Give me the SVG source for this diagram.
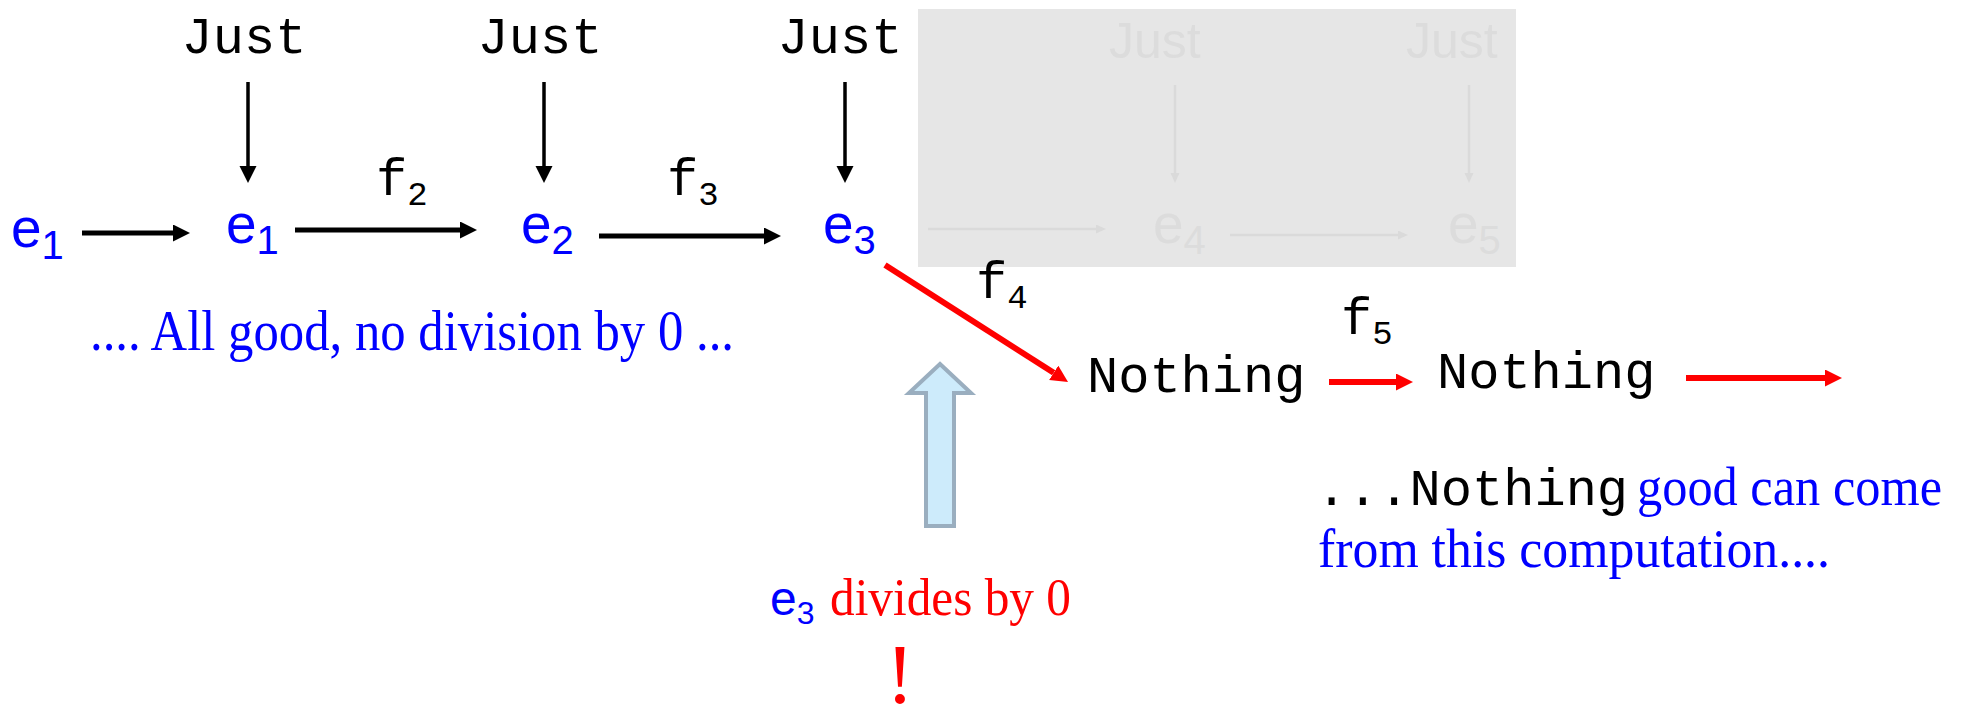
<svg xmlns="http://www.w3.org/2000/svg" width="1965" height="721" viewBox="0 0 1965 721">
<style>
.mono{font-family:"Liberation Mono","Courier New",monospace;fill:#000}
.sans{font-family:"Liberation Sans",Arial,sans-serif}
.serif{font-family:"Liberation Serif","Times New Roman",serif}
.en{fill:#0000ff;font-size:55px}
.sub{font-size:40px}
.blk{stroke:#000;stroke-width:5;fill:none}
.vblk{stroke:#000;stroke-width:3.5;fill:none}
.red{stroke:#ff0000;stroke-width:6;fill:none}
.fade{stroke:#dadada;stroke-width:2.5;fill:none}
.ftxt{fill:#dcdcdc}
</style>
<defs>
<marker id="hb" markerUnits="userSpaceOnUse" markerWidth="18" markerHeight="18" refX="0" refY="8.5" orient="auto"><path d="M0,0 L17,8.5 L0,17 z" fill="#000"/></marker>
<marker id="hr" markerUnits="userSpaceOnUse" markerWidth="18" markerHeight="18" refX="0" refY="8.5" orient="auto"><path d="M0,0 L17,8.5 L0,17 z" fill="#ff0000"/></marker>
<marker id="hf" markerUnits="userSpaceOnUse" markerWidth="12" markerHeight="10" refX="0" refY="4.5" orient="auto"><path d="M0,0 L10,4.5 L0,9 z" fill="#dadada"/></marker>
</defs>
<rect width="1965" height="721" fill="#fff"/>

<g id="hidden-overlay">
<rect x="918" y="9" width="598" height="258" fill="#e6e6e6"/>
<text class="sans ftxt" x="1109" y="58" font-size="50">Just</text>
<text class="sans ftxt" x="1406" y="58" font-size="50">Just</text>
<text class="sans ftxt" x="1153" y="243" font-size="55">e<tspan class="sub" dy="11">4</tspan></text>
<text class="sans ftxt" x="1448" y="243" font-size="55">e<tspan class="sub" dy="11">5</tspan></text>
<line class="fade" x1="928" y1="229" x2="1096" y2="229" marker-end="url(#hf)"/>
<line class="fade" x1="1230" y1="235" x2="1398" y2="235" marker-end="url(#hf)"/>
<line class="fade" x1="1175" y1="85" x2="1175" y2="173" marker-end="url(#hf)"/>
<line class="fade" x1="1469" y1="85" x2="1469" y2="173" marker-end="url(#hf)"/>
</g>

<g id="connectors">
<line class="vblk" x1="248" y1="82" x2="248" y2="166" marker-end="url(#hb)"/>
<line class="vblk" x1="544" y1="82" x2="544" y2="166" marker-end="url(#hb)"/>
<line class="vblk" x1="845" y1="82" x2="845" y2="166" marker-end="url(#hb)"/>
<line class="blk" x1="82" y1="233" x2="173" y2="233" marker-end="url(#hb)"/>
<line class="blk" x1="295" y1="230" x2="460" y2="230" marker-end="url(#hb)"/>
<line class="blk" x1="599" y1="236" x2="764" y2="236" marker-end="url(#hb)"/>
<line class="red" x1="885" y1="265" x2="1053.7" y2="372.8" marker-end="url(#hr)"/>
<line class="red" x1="1329" y1="382" x2="1396" y2="382" marker-end="url(#hr)"/>
<line class="red" x1="1686" y1="378" x2="1825" y2="378" marker-end="url(#hr)"/>
</g>

<g id="just1"><text class="mono" x="244" y="53" font-size="52" text-anchor="middle">Just</text></g>
<g id="just2"><text class="mono" x="540" y="53" font-size="52" text-anchor="middle">Just</text></g>
<g id="just3"><text class="mono" x="840" y="53" font-size="52" text-anchor="middle">Just</text></g>

<g id="e1-in"><text class="sans en" x="11" y="247">e<tspan class="sub" dy="12">1</tspan></text></g>
<g id="e1"><text class="sans en" x="226" y="243">e<tspan class="sub" dy="11">1</tspan></text></g>
<g id="e2"><text class="sans en" x="521" y="243">e<tspan class="sub" dy="11">2</tspan></text></g>
<g id="e3"><text class="sans en" x="823" y="243">e<tspan class="sub" dy="11">3</tspan></text></g>

<g id="f2"><text class="mono" x="376" y="195" font-size="52">f<tspan font-size="34" dy="10">2</tspan></text></g>
<g id="f3"><text class="mono" x="667" y="195" font-size="52">f<tspan font-size="34" dy="10">3</tspan></text></g>
<g id="f4"><text class="mono" x="976" y="298" font-size="52">f<tspan font-size="34" dy="10">4</tspan></text></g>
<g id="f5"><text class="mono" x="1341" y="334" font-size="52">f<tspan font-size="34" dy="10">5</tspan></text></g>

<g id="nothing1"><text class="mono" x="1087" y="392" font-size="52">Nothing</text></g>
<g id="nothing2"><text class="mono" x="1437" y="388" font-size="52">Nothing</text></g>

<g id="note-good"><text class="serif" x="90" y="350" font-size="57" fill="#0000ff" textLength="644" lengthAdjust="spacingAndGlyphs">.... All good, no division by 0 ...</text></g>

<g id="hollow-arrow"><polygon points="940,364 971,393 954,393 954,526 926,526 926,393 909,393" fill="#cdebfb" stroke="#9aaebf" stroke-width="4"/></g>

<g id="note-divide">
<text class="sans" x="770" y="615" font-size="48" fill="#0000ff">e<tspan font-size="32" dy="9">3</tspan></text>
<text class="serif" x="830" y="615" font-size="53" fill="#ff0000" textLength="241" lengthAdjust="spacingAndGlyphs">divides by 0</text>
<text class="serif" x="900" y="703" font-size="84" fill="#ff0000" text-anchor="middle">!</text>
</g>

<g id="note-nothing">
<text class="mono" x="1316" y="505" font-size="52">...Nothing</text>
<text class="serif" x="1637" y="505" font-size="54" fill="#0000ff" textLength="305" lengthAdjust="spacingAndGlyphs">good can come</text>
<text class="serif" x="1318" y="567" font-size="54" fill="#0000ff" textLength="512" lengthAdjust="spacingAndGlyphs">from this computation....</text>
</g>
</svg>
